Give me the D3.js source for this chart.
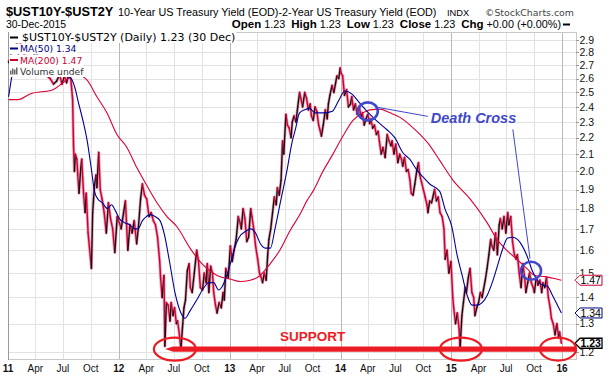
<!DOCTYPE html>
<html lang="en">
<head>
<meta charset="UTF-8"/>
<title>$UST10Y-$UST2Y Death Cross</title>
<script src="https://d3js.org/d3.v7.min.js"></script>
<style>
body { margin: 0; background: #fff; }
</style>
</head>
<body>
<script>
var w = 615;
var h = 378;
var plotL = 8, plotR = 576, plotT = 32, plotB = 359;

// 10Y - 2Y spread, daily closes (thinned)
var price = [
  ["2011-01-03",2.72],["2011-01-12",2.80],["2011-01-24",2.84],["2011-02-04",2.90],["2011-02-14",2.86],
  ["2011-02-24",2.78],["2011-03-07",2.76],["2011-03-16",2.64],["2011-03-28",2.74],["2011-04-08",2.78],
  ["2011-04-19",2.68],["2011-04-29",2.66],["2011-05-10",2.62],["2011-05-20",2.60],["2011-05-31",2.56],
  ["2011-06-10",2.58],["2011-06-20",2.63],["2011-06-28",2.56],["2011-07-06",2.62],["2011-07-13",2.57],
  ["2011-07-20",2.63],["2011-07-27",2.60],["2011-08-02",2.45],["2011-08-05",2.15],["2011-08-08",2.00],
  ["2011-08-11",2.10],["2011-08-16",2.07],["2011-08-19",1.98],["2011-08-23",1.88],["2011-08-29",2.02],
  ["2011-09-01",2.07],["2011-09-07",1.88],["2011-09-12",1.78],["2011-09-16",1.88],["2011-09-22",1.68],
  ["2011-10-03",1.52],["2011-10-07",1.78],["2011-10-13",1.92],["2011-10-18",1.98],["2011-10-21",1.91],
  ["2011-10-27",2.11],["2011-11-01",1.90],["2011-11-07",1.85],["2011-11-14",1.78],["2011-11-21",1.68],
  ["2011-11-28",1.83],["2011-12-05",1.75],["2011-12-12",1.70],["2011-12-19",1.59],["2011-12-27",1.76],
  ["2012-01-03",1.73],["2012-01-09",1.70],["2012-01-17",1.78],["2012-01-23",1.84],["2012-01-31",1.60],
  ["2012-02-07",1.72],["2012-02-14",1.68],["2012-02-21",1.74],["2012-02-29",1.63],["2012-03-06",1.71],
  ["2012-03-13",1.85],["2012-03-19",1.93],["2012-03-26",1.87],["2012-04-02",1.85],["2012-04-10",1.76],
  ["2012-04-17",1.78],["2012-04-24",1.74],["2012-05-01",1.72],["2012-05-08",1.66],["2012-05-15",1.55],
  ["2012-05-18",1.48],["2012-05-23",1.40],["2012-05-29",1.49],["2012-06-01",1.22],["2012-06-06",1.38],
  ["2012-06-12",1.37],["2012-06-18",1.31],["2012-06-22",1.38],["2012-06-28",1.33],["2012-07-03",1.36],
  ["2012-07-09",1.30],["2012-07-13",1.31],["2012-07-19",1.26],["2012-07-24",1.21],["2012-07-30",1.30],
  ["2012-08-03",1.36],["2012-08-08",1.39],["2012-08-14",1.51],["2012-08-20",1.54],["2012-08-24",1.44],
  ["2012-08-30",1.42],["2012-09-06",1.50],["2012-09-14",1.60],["2012-09-20",1.55],["2012-09-26",1.44],
  ["2012-10-03",1.43],["2012-10-09",1.50],["2012-10-15",1.46],["2012-10-19",1.54],["2012-10-24",1.42],
  ["2012-10-30",1.53],["2012-11-05",1.50],["2012-11-09",1.42],["2012-11-15",1.37],["2012-11-20",1.34],
  ["2012-11-27",1.38],["2012-12-04",1.36],["2012-12-10",1.42],["2012-12-14",1.39],["2012-12-19",1.52],
  ["2012-12-27",1.48],["2013-01-03",1.62],["2013-01-09",1.55],["2013-01-15",1.60],["2013-01-22",1.65],
  ["2013-01-29",1.76],["2013-02-04",1.73],["2013-02-08",1.70],["2013-02-14",1.80],["2013-02-20",1.75],
  ["2013-02-26",1.64],["2013-03-04",1.66],["2013-03-11",1.80],["2013-03-15",1.76],["2013-03-21",1.70],
  ["2013-03-27",1.62],["2013-04-03",1.56],["2013-04-09",1.50],["2013-04-15",1.48],["2013-04-19",1.46],
  ["2013-04-25",1.50],["2013-05-01",1.47],["2013-05-06",1.58],["2013-05-10",1.65],["2013-05-16",1.70],
  ["2013-05-22",1.78],["2013-05-28",1.86],["2013-06-03",1.82],["2013-06-07",1.91],["2013-06-13",1.87],
  ["2013-06-19",1.95],["2013-06-24",2.18],["2013-06-28",2.10],["2013-07-05",2.35],["2013-07-10",2.28],
  ["2013-07-16",2.26],["2013-07-22",2.20],["2013-07-26",2.30],["2013-08-01",2.34],["2013-08-07",2.30],
  ["2013-08-13",2.40],["2013-08-19",2.50],["2013-08-23",2.46],["2013-08-29",2.40],["2013-09-05",2.50],
  ["2013-09-11",2.46],["2013-09-17",2.38],["2013-09-23",2.42],["2013-09-27",2.34],["2013-10-03",2.31],
  ["2013-10-09",2.40],["2013-10-15",2.37],["2013-10-21",2.28],["2013-10-25",2.25],["2013-10-30",2.21],
  ["2013-11-05",2.28],["2013-11-12",2.38],["2013-11-18",2.32],["2013-11-22",2.42],["2013-11-27",2.48],
  ["2013-12-04",2.55],["2013-12-10",2.50],["2013-12-16",2.57],["2013-12-20",2.62],["2013-12-26",2.60],
  ["2013-12-31",2.68],["2014-01-03",2.64],["2014-01-08",2.62],["2014-01-14",2.48],["2014-01-21",2.52],
  ["2014-01-27",2.40],["2014-02-03",2.42],["2014-02-07",2.47],["2014-02-13",2.38],["2014-02-19",2.42],
  ["2014-02-25",2.35],["2014-03-04",2.40],["2014-03-10",2.33],["2014-03-14",2.36],["2014-03-20",2.28],
  ["2014-03-26",2.32],["2014-04-01",2.35],["2014-04-07",2.29],["2014-04-11",2.32],["2014-04-17",2.26],
  ["2014-04-23",2.28],["2014-04-29",2.22],["2014-05-05",2.24],["2014-05-09",2.18],["2014-05-15",2.10],
  ["2014-05-21",2.14],["2014-05-28",2.08],["2014-06-04",2.22],["2014-06-10",2.18],["2014-06-16",2.15],
  ["2014-06-20",2.18],["2014-06-26",2.10],["2014-07-02",2.16],["2014-07-09",2.05],["2014-07-15",2.10],
  ["2014-07-21",2.07],["2014-07-25",2.03],["2014-07-31",2.08],["2014-08-06",2.00],["2014-08-12",2.01],
  ["2014-08-18",1.95],["2014-08-22",1.88],["2014-08-28",1.87],["2014-09-03",1.93],["2014-09-09",2.00],
  ["2014-09-15",2.05],["2014-09-19",1.98],["2014-09-25",1.94],["2014-10-01",1.90],["2014-10-07",1.86],
  ["2014-10-13",1.82],["2014-10-16",1.78],["2014-10-22",1.84],["2014-10-28",1.83],["2014-11-03",1.87],
  ["2014-11-07",1.90],["2014-11-13",1.84],["2014-11-19",1.86],["2014-11-25",1.78],["2014-12-02",1.76],
  ["2014-12-08",1.70],["2014-12-12",1.56],["2014-12-18",1.60],["2014-12-24",1.50],["2014-12-31",1.55],
  ["2015-01-06",1.40],["2015-01-09",1.36],["2015-01-15",1.30],["2015-01-21",1.34],["2015-01-27",1.28],
  ["2015-01-30",1.21],["2015-02-05",1.33],["2015-02-10",1.38],["2015-02-16",1.44],["2015-02-20",1.42],
  ["2015-02-26",1.48],["2015-03-04",1.52],["2015-03-10",1.42],["2015-03-16",1.40],["2015-03-20",1.33],
  ["2015-03-26",1.36],["2015-04-01",1.38],["2015-04-07",1.42],["2015-04-13",1.40],["2015-04-17",1.43],
  ["2015-04-23",1.47],["2015-04-29",1.52],["2015-05-05",1.58],["2015-05-11",1.65],["2015-05-15",1.62],
  ["2015-05-21",1.60],["2015-05-27",1.68],["2015-06-02",1.58],["2015-06-08",1.72],["2015-06-12",1.75],
  ["2015-06-18",1.70],["2015-06-24",1.76],["2015-06-30",1.68],["2015-07-06",1.78],["2015-07-10",1.72],
  ["2015-07-16",1.76],["2015-07-22",1.64],["2015-07-28",1.58],["2015-08-03",1.56],["2015-08-07",1.58],
  ["2015-08-13",1.50],["2015-08-19",1.44],["2015-08-25",1.54],["2015-08-31",1.48],["2015-09-04",1.42],
  ["2015-09-10",1.46],["2015-09-16",1.50],["2015-09-22",1.46],["2015-09-28",1.44],["2015-10-02",1.42],
  ["2015-10-08",1.48],["2015-10-14",1.45],["2015-10-20",1.47],["2015-10-26",1.42],["2015-10-30",1.46],
  ["2015-11-05",1.44],["2015-11-11",1.48],["2015-11-17",1.40],["2015-11-23",1.36],["2015-11-27",1.32],
  ["2015-12-03",1.30],["2015-12-09",1.26],["2015-12-15",1.30],["2015-12-21",1.25],["2015-12-24",1.27],
  ["2015-12-30",1.23]
];

// 50-day moving average
var ma50 = [
  ["2011-01-03",2.47],["2011-01-14",2.62],["2011-01-25",2.74],["2011-02-15",2.80],["2011-03-15",2.80],
  ["2011-04-15",2.75],["2011-05-15",2.70],["2011-06-15",2.64],["2011-07-10",2.62],["2011-07-28",2.60],
  ["2011-08-10",2.53],["2011-08-20",2.44],["2011-09-06",2.30],["2011-09-20",2.17],["2011-10-03",2.01],
  ["2011-10-13",1.89],["2011-10-24",1.85],["2011-11-08",1.83],["2011-11-25",1.80],["2011-12-08",1.82],
  ["2011-12-21",1.79],["2012-01-03",1.75],["2012-01-20",1.73],["2012-02-06",1.72],["2012-02-22",1.70],
  ["2012-03-05",1.70],["2012-03-19",1.74],["2012-04-01",1.76],["2012-04-13",1.77],["2012-04-30",1.76],
  ["2012-05-16",1.74],["2012-05-31",1.67],["2012-06-15",1.56],["2012-07-06",1.41],["2012-07-24",1.34],
  ["2012-08-06",1.32],["2012-08-24",1.35],["2012-09-14",1.39],["2012-10-08",1.44],["2012-10-24",1.46],
  ["2012-11-09",1.46],["2012-11-25",1.43],["2012-12-05",1.44],["2012-12-22",1.49],["2013-01-07",1.56],
  ["2013-01-17",1.61],["2013-02-01",1.66],["2013-02-24",1.69],["2013-03-11",1.70],["2013-03-27",1.68],
  ["2013-04-12",1.63],["2013-04-28",1.61],["2013-05-15",1.61],["2013-05-30",1.70],["2013-06-19",1.85],
  ["2013-07-09",2.01],["2013-07-25",2.17],["2013-08-05",2.25],["2013-08-19",2.36],["2013-09-05",2.38],
  ["2013-09-20",2.39],["2013-10-10",2.36],["2013-10-25",2.36],["2013-11-10",2.36],["2013-12-05",2.37],
  ["2013-12-20",2.42],["2013-12-30",2.46],["2014-01-15",2.51],["2014-02-07",2.49],["2014-02-24",2.45],
  ["2014-03-16",2.40],["2014-04-08",2.35],["2014-05-04",2.30],["2014-06-03",2.25],["2014-06-29",2.20],
  ["2014-07-25",2.11],["2014-08-17",2.07],["2014-09-09",2.01],["2014-09-29",1.97],["2014-10-22",1.93],
  ["2014-11-24",1.89],["2014-12-11",1.80],["2015-01-03",1.71],["2015-01-20",1.58],["2015-02-06",1.49],
  ["2015-02-22",1.41],["2015-03-11",1.37],["2015-03-27",1.37],["2015-04-13",1.38],["2015-04-30",1.41],
  ["2015-05-16",1.46],["2015-06-02",1.53],["2015-06-18",1.60],["2015-07-05",1.655],["2015-07-21",1.66],
  ["2015-08-07",1.65],["2015-08-23",1.62],["2015-09-09",1.57],["2015-09-25",1.51],["2015-10-12",1.47],
  ["2015-10-28",1.45],["2015-11-14",1.445],["2015-11-30",1.41],["2015-12-17",1.37],["2015-12-30",1.34]
];

// 200-day moving average
var ma200 = [
  ["2011-01-03",2.45],["2011-02-03",2.45],["2011-03-15",2.49],["2011-05-29",2.52],["2011-07-01",2.57],
  ["2011-07-24",2.61],["2011-08-16",2.63],["2011-09-18",2.59],["2011-10-21",2.47],["2011-11-23",2.36],
  ["2011-12-26",2.22],["2012-01-28",2.14],["2012-03-01",2.02],["2012-04-03",1.92],["2012-05-06",1.83],
  ["2012-06-08",1.76],["2012-07-11",1.71],["2012-08-23",1.61],["2012-10-05",1.535],["2012-11-20",1.49],
  ["2013-01-02",1.475],["2013-02-04",1.465],["2013-03-09",1.47],["2013-04-11",1.49],["2013-05-14",1.54],
  ["2013-06-15",1.60],["2013-07-18",1.69],["2013-08-20",1.77],["2013-09-12",1.84],["2013-10-02",1.89],
  ["2013-11-04",2.00],["2013-12-07",2.10],["2014-01-09",2.21],["2014-02-11",2.31],["2014-03-16",2.36],
  ["2014-04-08",2.38],["2014-05-11",2.385],["2014-06-13",2.36],["2014-07-16",2.33],["2014-08-18",2.28],
  ["2014-09-20",2.22],["2014-10-23",2.15],["2014-11-25",2.06],["2015-01-07",1.95],["2015-03-04",1.85],
  ["2015-04-29",1.73],["2015-06-01",1.65],["2015-07-03",1.60],["2015-08-05",1.56],["2015-09-07",1.52],
  ["2015-10-04",1.49],["2015-11-06",1.485],["2015-12-03",1.478],["2015-12-30",1.47]
];

var yTicks = [1.2,1.3,1.4,1.5,1.6,1.7,1.8,1.9,2.0,2.1,2.2,2.3,2.4,2.5,2.6,2.7,2.8,2.9];
var lastPrice = 1.23, lastMa50 = 1.34, lastMa200 = 1.47;

// hand-drawn annotations
var deathCrosses = [["2014-04-01",2.37],["2015-09-21",1.51]];
var supportLevel = 1.21;
var supportStart = "2012-06-05";
var supportDates = ["2012-07-04","2015-02-02","2015-12-19"];

var parse = d3.timeParse("%Y-%m-%d");
var sans = '"Liberation Sans", Arial, sans-serif';
var verd = '"DejaVu Sans", Verdana, sans-serif';

var xScale = d3.scaleTime()
    .domain([parse("2011-01-01"), parse("2016-01-01")])
    .range([8, 562]);

var yScale = d3.scaleLog()
    .domain([1.2, 2.9])
    .range([352, 40]);

var svg = d3.select("body")
    .append("svg")
    .attr("width", w)
    .attr("height", h)
    .style("font-family", sans);

/* grid */
var grid = svg.append("g").attr("shape-rendering", "crispEdges");
grid.selectAll("line.h")
    .data(yTicks)
    .enter()
    .append("line")
    .attr("x1", plotL).attr("x2", plotR)
    .attr("y1", d => Math.round(yScale(d)) + 0.5)
    .attr("y2", d => Math.round(yScale(d)) + 0.5)
    .attr("stroke", "#e2e2e2");

var quarters = d3.timeMonth.every(3).range(parse("2011-01-01"), parse("2016-01-02"));
grid.selectAll("line.v")
    .data(quarters)
    .enter()
    .append("line")
    .attr("x1", d => Math.round(xScale(d)) + 0.5)
    .attr("x2", d => Math.round(xScale(d)) + 0.5)
    .attr("y1", plotT).attr("y2", plotB)
    .attr("stroke", d => d.getMonth() == 0 ? "#b8b8b8" : "#e2e2e2");

grid.append("rect")
    .attr("x", plotL + 0.5).attr("y", plotT + 0.5)
    .attr("width", plotR - plotL).attr("height", plotB - plotT)
    .attr("fill", "none").attr("stroke", "#c8c8c8");
grid.append("line")
    .attr("x1", plotL + 0.5).attr("x2", plotL + 0.5)
    .attr("y1", plotT).attr("y2", plotB + 1)
    .attr("stroke", "#999");

/* price line, black when rising and crimson when falling */
var pts = price.map(d => [parse(d[0]), d[1]]);
var line = d3.line().x(d => xScale(d[0])).y(d => yScale(d[1]));

svg.append("path")
    .datum(pts)
    .attr("d", line)
    .attr("fill", "none")
    .attr("stroke", "#f0a0b8")
    .attr("stroke-width", 3)
    .attr("stroke-linejoin", "round");

svg.selectAll("line.seg")
    .data(d3.pairs(pts))
    .enter()
    .append("line")
    .attr("x1", d => xScale(d[0][0]))
    .attr("y1", d => yScale(d[0][1]))
    .attr("x2", d => xScale(d[1][0]))
    .attr("y2", d => yScale(d[1][1]))
    .attr("stroke", d => d[1][1] > d[0][1] ? "#111" : "#cc0033")
    .attr("stroke-width", 1.4)
    .attr("stroke-linecap", "round");

/* moving averages */
var smooth = d3.line()
    .curve(d3.curveMonotoneX)
    .x(d => xScale(parse(d[0])))
    .y(d => yScale(d[1]));

svg.append("path")
    .datum(ma200)
    .attr("d", smooth)
    .attr("fill", "none")
    .attr("stroke", "#dd0033")
    .attr("stroke-width", 1.1);

svg.append("path")
    .datum(ma50)
    .attr("d", smooth)
    .attr("fill", "none")
    .attr("stroke", "#000099")
    .attr("stroke-width", 1.1);

/* legend in the top-left corner */
var legendRows = [
    {t: "$UST10Y-$UST2Y (Daily) 1.23 (30 Dec)", c: "#000", size: 11, y: 41},
    {t: "MA(50) 1.34", c: "#000080", size: 9.2, y: 52},
    {t: "MA(200) 1.47", c: "#cc0033", size: 9.2, y: 63.5},
    {t: "Volume undef", c: "#333", size: 9.2, y: 74.5}
];
var lg = svg.append("g");
legendRows.forEach(function(r, i) {
    var bg = lg.append("rect").attr("fill", "#fff");
    var tx = lg.append("text")
        .attr("x", i == 0 ? 22 : 20)
        .attr("y", r.y)
        .attr("font-family", verd)
        .attr("font-size", r.size)
        .attr("fill", r.c)
        .text(r.t);
    var tw = tx.node().getComputedTextLength();
    bg.attr("x", plotL + 1).attr("y", r.y - (i == 0 ? 9 : 8.5))
      .attr("width", (i == 0 ? 22 : 20) + tw - plotL)
      .attr("height", i == 0 ? 11 : 11);
    tx.raise();
    if (i < 3) {
        lg.append("line")
            .attr("x1", 10).attr("x2", 18)
            .attr("y1", r.y - 3.5).attr("y2", r.y - 3.5)
            .attr("stroke", r.c).attr("stroke-width", 2);
    } else {
        [[10, 4], [12, 6], [14, 5], [16, 7]].forEach(function(b) {
            lg.append("rect").attr("x", b[0]).attr("y", r.y - b[1])
              .attr("width", 1.5).attr("height", b[1]).attr("fill", "#666");
        });
    }
});

/* right axis */
var ax = svg.append("g");
ax.selectAll("line.tk")
    .data(yTicks)
    .enter()
    .append("line")
    .attr("x1", plotR).attr("x2", plotR + 3)
    .attr("y1", d => Math.round(yScale(d)) + 0.5)
    .attr("y2", d => Math.round(yScale(d)) + 0.5)
    .attr("stroke", "#999");
ax.selectAll("text.tk")
    .data(yTicks)
    .enter()
    .append("text")
    .attr("x", 579.5)
    .attr("y", d => yScale(d) + 3.8)
    .attr("font-size", 10.5)
    .attr("fill", "#111")
    .text(d => d.toFixed(1));

/* bottom axis */
var fmtYear = d3.timeFormat("%y"), fmtMon = d3.timeFormat("%b");
ax.selectAll("text.x")
    .data(quarters)
    .enter()
    .append("text")
    .attr("x", d => xScale(d))
    .attr("y", 372)
    .attr("text-anchor", "middle")
    .attr("font-size", 10)
    .attr("font-weight", d => d.getMonth() == 0 ? "bold" : "normal")
    .attr("fill", "#111")
    .text(d => d.getMonth() == 0 ? fmtYear(d) : fmtMon(d));

/* last value tags */
[[lastMa200, "#cc0033", "normal"], [lastMa50, "#000080", "normal"], [lastPrice, "#000", "bold"]].forEach(function(t) {
    var cy = yScale(t[0]);
    ax.append("path")
        .attr("d", "M" + (plotR - 1) + "," + cy + " L" + (plotR + 4) + "," + (cy - 5) +
                   " L602," + (cy - 5) + " L602," + (cy + 5) + " L" + (plotR + 4) + "," + (cy + 5) + " Z")
        .attr("fill", "#fff")
        .attr("stroke", t[1])
        .attr("stroke-width", t[2] == "bold" ? 1.3 : 1);
    ax.append("text")
        .attr("x", 580.5).attr("y", cy + 4)
        .attr("font-size", 10.5)
        .attr("font-weight", t[2])
        .attr("fill", "#000")
        .text(t[0].toFixed(2));
});

/* annotations: death cross */
var blue = "#3f48cc";
var dc = deathCrosses.map(d => [xScale(parse(d[0])), yScale(d[1])]);
svg.selectAll("ellipse.dc")
    .data(dc)
    .enter()
    .append("ellipse")
    .attr("cx", d => d[0]).attr("cy", d => d[1])
    .attr("rx", 10).attr("ry", 9)
    .attr("fill", "none")
    .attr("stroke", blue)
    .attr("stroke-width", 2.6);
svg.append("line")
    .attr("x1", dc[0][0] + 10).attr("y1", dc[0][1] - 4)
    .attr("x2", dc[0][0] + 60).attr("y2", dc[0][1] + 5)
    .attr("stroke", blue).attr("stroke-width", 1);
svg.append("text")
    .attr("x", dc[0][0] + 63).attr("y", dc[0][1] + 12)
    .attr("font-size", 14.5)
    .attr("font-weight", "bold")
    .attr("font-style", "italic")
    .attr("fill", blue)
    .text("Death Cross");
svg.append("line")
    .attr("x1", dc[0][0] + 145).attr("y1", dc[0][1] + 18)
    .attr("x2", dc[1][0] - 1).attr("y2", dc[1][1] - 12)
    .attr("stroke", blue).attr("stroke-width", 1);

/* annotations: support */
var red = "#ed1c24";
var sy = yScale(supportLevel);
var sx0 = xScale(parse(supportStart));
svg.append("path")
    .attr("d", "M" + (sx0 - 1) + "," + sy + " L" + (sx0 + 7) + "," + (sy - 2.6) +
               " L" + (plotR - 1) + "," + (sy - 2.6) + " L" + (plotR - 1) + "," + (sy + 2.6) +
               " L" + (sx0 + 7) + "," + (sy + 2.6) + " Z")
    .attr("fill", red);
svg.selectAll("ellipse.sp")
    .data(supportDates)
    .enter()
    .append("ellipse")
    .attr("cx", d => xScale(parse(d)))
    .attr("cy", sy)
    .attr("rx", (d, i) => i == 2 ? 18 : 21)
    .attr("ry", 11.5)
    .attr("fill", "none")
    .attr("stroke", red)
    .attr("stroke-width", 2.2);
svg.append("text")
    .attr("x", 280).attr("y", sy - 8.5)
    .attr("font-size", 13.5)
    .attr("font-weight", "bold")
    .attr("fill", red)
    .text("SUPPORT");

/* header */
svg.append("text")
    .attr("x", 6).attr("y", 16)
    .attr("font-size", 12.8)
    .attr("font-weight", "bold")
    .text("$UST10Y-$UST2Y");
svg.append("text")
    .attr("x", 118).attr("y", 16)
    .attr("font-size", 10.8)
    .text("10-Year US Treasury Yield (EOD)-2-Year US Treasury Yield (EOD)");
svg.append("text")
    .attr("x", 447).attr("y", 16)
    .attr("font-size", 9.3)
    .text("INDX");
svg.append("text")
    .attr("x", 485).attr("y", 15.5)
    .attr("font-family", verd)
    .attr("font-size", 9.4)
    .attr("fill", "#444")
    .text("\u00a9StockCharts.com");
svg.append("text")
    .attr("x", 6).attr("y", 27.5)
    .attr("font-size", 10.4)
    .text("30-Dec-2015");

var ohlc = svg.append("text")
    .attr("x", 561).attr("y", 27.5)
    .attr("text-anchor", "end")
    .attr("font-size", 10.8);
[["Open", " 1.23  "], ["High", " 1.23  "], ["Low", " 1.23  "], ["Close", " 1.23  "], ["Chg", " +0.00 (+0.00%)"]].forEach(function(p) {
    ohlc.append("tspan").attr("font-weight", "bold").attr("font-size", 11.5).text(p[0]);
    ohlc.append("tspan").attr("xml:space", "preserve").text(p[1]);
});
ohlc.attr("xml:space", "preserve");
svg.append("line")
    .attr("x1", 563).attr("x2", 570)
    .attr("y1", 24.5).attr("y2", 24.5)
    .attr("stroke", "#000").attr("stroke-width", 2);
</script>
</body>
</html>
